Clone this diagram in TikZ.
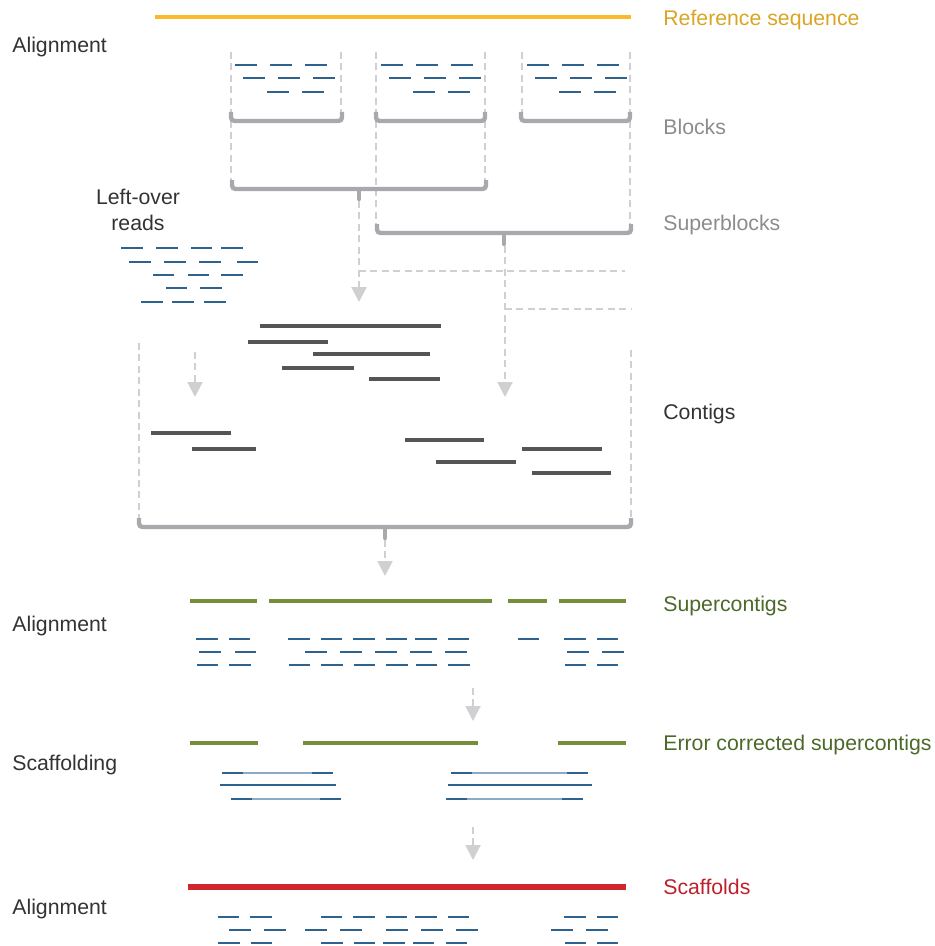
\documentclass[tikz,border=0pt]{standalone}
\usepackage{fontspec}
\setmainfont{Liberation Sans}
\usetikzlibrary{arrows.meta,positioning}

\definecolor{refyellow}{RGB}{251,186,44}
\definecolor{reftext}{RGB}{218,165,35}
\definecolor{readblue}{RGB}{46,99,143}
\definecolor{mateblue}{RGB}{140,170,196}
\definecolor{contiggray}{RGB}{85,85,85}
\definecolor{bracketgray}{RGB}{167,169,172}
\definecolor{dashgray}{RGB}{208,208,210}
\definecolor{labelgray}{RGB}{140,140,142}
\definecolor{scgreen}{RGB}{115,143,60}
\definecolor{sctext}{RGB}{75,105,40}
\definecolor{scafred}{RGB}{208,38,45}
\definecolor{scaftext}{RGB}{190,32,42}
\definecolor{textdark}{RGB}{51,51,51}

\tikzset{
  lbl/.style={inner sep=0pt, anchor=base west, font=\fontsize{12.1}{14.7}\selectfont},
  read/.style={readblue, line width=1.5pt},
  mate/.style={mateblue, line width=0.7pt},
  contig/.style={contiggray, line width=2.8pt},
  bracket/.style={bracketgray, line width=2.5pt, rounded corners=2pt},
  guide/.style={dashgray, line width=1.2pt, dash pattern=on 4pt off 2.5pt},
  flow/.style={guide, arrows={-Triangle[width=8.5pt,length=8.5pt]}}
}

\begin{document}
\begin{tikzpicture}[x=0.02cm, y=-0.02cm]
 \useasboundingbox (0,0) rectangle (935,946);

 % labels
 \node[lbl, reftext] (ref) at (663,26) {Reference sequence};
 \node[lbl, labelgray] (blocks) at (663,134) {Blocks};
 \node[lbl, labelgray] (superblocks) at (663,230) {Superblocks};
 \node[lbl, textdark] (contigs) at (663,419) {Contigs};
 \node[lbl, sctext] (supercontigs) at (663,611) {Supercontigs};
 \node[lbl, sctext] (ecsc) at (663,750) {Error corrected supercontigs};
 \node[lbl, scaftext] (scaffolds) at (663,894) {Scaffolds};
 \node[lbl, textdark] (align1) at (12,53) {Alignment};
 \node[lbl, textdark] (align2) at (12,631) {Alignment};
 \node[lbl, textdark] (scaffolding) at (12,770) {Scaffolding};
 \node[lbl, textdark] (align3) at (12,914) {Alignment};
 \node[inner sep=0pt, align=center, textdark, font=\fontsize{12.1}{14.7}\selectfont] (leftover) at (138,210) {Left-over\\reads};

 % reference
 \draw[refyellow, line width=2.8pt] (155,17) -- (631,17);

 % dashed guides
 \draw[guide] (231,52) -- (231,182);
 \draw[guide] (341,52) -- (341,114);
 \draw[guide] (376,52) -- (376,226);
 \draw[guide] (485,52) -- (485,182);
 \draw[guide] (522,52) -- (522,114);
 \draw[guide] (630,52) -- (630,226);
 \draw[guide] (359,271) -- (625,271);
 \draw[guide] (505,309) -- (631,309);
 \draw[guide] (139,343) -- (139,520);
 \draw[guide] (631,350) -- (631,520);

 % reads in blocks
 \draw[read] (235,65) -- (257,65) (270,65) -- (292,65) (305,65) -- (327,65);
 \draw[read] (243,78) -- (265,78) (278,78) -- (300,78) (313,78) -- (335,78);
 \draw[read] (267,92) -- (289,92) (302,92) -- (324,92);
 \draw[read] (381,65) -- (403,65) (416,65) -- (438,65) (451,65) -- (473,65);
 \draw[read] (389,78) -- (411,78) (424,78) -- (446,78) (459,78) -- (481,78);
 \draw[read] (413,92) -- (435,92) (448,92) -- (470,92);
 \draw[read] (527,65) -- (549,65) (562,65) -- (584,65) (597,65) -- (619,65);
 \draw[read] (535,78) -- (557,78) (570,78) -- (592,78) (605,78) -- (627,78);
 \draw[read] (559,92) -- (581,92) (594,92) -- (616,92);

 % block and superblock brackets
 \draw[bracket] (231,112) -- (231,121) -- (342,121) -- (342,112);
 \draw[bracket] (376,112) -- (376,121) -- (485,121) -- (485,112);
 \draw[bracket] (521,112) -- (521,121) -- (630,121) -- (630,112);
 \draw[bracket] (232,180) -- (232,189) -- (486,189) -- (486,180);
 \draw[bracket] (377,224) -- (377,233) -- (631,233) -- (631,224);
 \draw[bracket] (139,518) -- (139,527) -- (631,527) -- (631,518);
 \draw[bracketgray, line width=2.5pt, line cap=round] (359,190) -- (359,199);
 \draw[bracketgray, line width=2.5pt, line cap=round] (504,234) -- (504,244);
 \draw[bracketgray, line width=2.5pt, line cap=round] (385,528) -- (385,538);

 % arrows
 \coordinate (sb1tab) at (359,201);
 \coordinate (sb1end) at (359,302);
 \coordinate (sb2tab) at (505,246);
 \coordinate (sb2end) at (505,397);
 \coordinate (lostart) at (195,352);
 \coordinate (loend) at (195,397);
 \coordinate (ctab) at (385,540);
 \coordinate (cend) at (385,576);
 \coordinate (sc1) at (473,688);
 \coordinate (sc2) at (473,721);
 \coordinate (ec1) at (473,827);
 \coordinate (ec2) at (473,860);
 \draw[flow] (sb1tab) -- (sb1end);
 \draw[flow] (sb2tab) -- (sb2end);
 \draw[flow] (lostart) -- (loend);
 \draw[flow] (ctab) -- (cend);
 \draw[flow] (sc1) -- (sc2);
 \draw[flow] (ec1) -- (ec2);

 % left-over reads
 \draw[read] (121,248) -- (143,248) (156,248) -- (178,248) (191,248) -- (212,248) (221,248) -- (243,248);
 \draw[read] (129,262) -- (151,262) (164,262) -- (186,262) (199,262) -- (221,262) (237,262) -- (258,262);
 \draw[read] (153,275) -- (174,275) (188,275) -- (209,275) (221,275) -- (243,275);
 \draw[read] (166,288) -- (187,288) (200,288) -- (222,288);
 \draw[read] (141,302) -- (163,302) (172,302) -- (194,302) (204,302) -- (226,302);

 % contigs
 \draw[contig] (260,326) -- (441,326);
 \draw[contig] (248,342) -- (328,342);
 \draw[contig] (313,354) -- (430,354);
 \draw[contig] (282,368) -- (354,368);
 \draw[contig] (369,379) -- (440,379);
 \draw[contig] (151,433) -- (231,433);
 \draw[contig] (192,449) -- (256,449);
 \draw[contig] (405,440) -- (484,440);
 \draw[contig] (436,462) -- (516,462);
 \draw[contig] (522,449) -- (602,449);
 \draw[contig] (532,473) -- (611,473);

 % supercontigs
 \draw[scgreen, line width=2.8pt] (190,601) -- (257,601) (269,601) -- (492,601) (508,601) -- (547,601) (559,601) -- (626,601);
 \draw[read] (196,639) -- (218,639) (229,639) -- (250,639) (288,639) -- (310,639) (321,639) -- (342,639) (353,639) -- (375,639) (386,639) -- (407,639) (415,639) -- (437,639) (448,639) -- (469,639) (518,639) -- (539,639) (564,639) -- (586,639) (597,639) -- (618,639);
 \draw[read] (199,652) -- (221,652) (235,652) -- (256,652) (305,652) -- (327,652) (340,652) -- (362,652) (375,652) -- (397,652) (410,652) -- (432,652) (445,652) -- (467,652) (567,652) -- (589,652) (602,652) -- (624,652);
 \draw[read] (197,665) -- (218,665) (229,665) -- (251,665) (289,665) -- (310,665) (321,665) -- (343,665) (354,665) -- (375,665) (386,665) -- (408,665) (416,665) -- (437,665) (448,665) -- (470,665) (565,665) -- (586,665) (597,665) -- (618,665);

 % error corrected supercontigs and mate pairs
 \draw[scgreen, line width=2.8pt] (190,743) -- (258,743) (303,743) -- (478,743) (558,743) -- (626,743);
 \draw[mate] (243,773) -- (312,773) (472,773) -- (567,773);
 \draw[readblue, line width=0.6pt] (241,785) -- (315,785) (470,785) -- (570,785);
 \draw[mate] (252,799) -- (320,799) (467,799) -- (562,799);
 \draw[read] (222,773) -- (243,773) (312,773) -- (333,773) (451,773) -- (472,773) (567,773) -- (588,773);
 \draw[read] (220,785) -- (241,785) (315,785) -- (336,785) (448,785) -- (470,785) (570,785) -- (592,785);
 \draw[read] (231,799) -- (252,799) (320,799) -- (341,799) (446,799) -- (467,799) (562,799) -- (583,799);

 % scaffolds
 \draw[scafred, line width=3.4pt] (188,887) -- (626,887);
 \draw[read] (218,917) -- (239,917) (250,917) -- (272,917) (321,917) -- (342,917) (353,917) -- (375,917) (386,917) -- (407,917) (415,917) -- (437,917) (448,917) -- (469,917) (564,917) -- (586,917) (597,917) -- (618,917);
 \draw[read] (229,930) -- (251,930) (264,930) -- (286,930) (305,930) -- (327,930) (340,930) -- (362,930) (386,930) -- (408,930) (421,930) -- (443,930) (456,930) -- (478,930) (551,930) -- (573,930) (586,930) -- (608,930);
 \draw[read] (218,943) -- (240,943) (251,943) -- (272,943) (321,943) -- (343,943) (354,943) -- (375,943) (383,943) -- (405,943) (413,943) -- (434,943) (446,943) -- (467,943) (565,943) -- (586,943) (597,943) -- (618,943);

\end{tikzpicture}
\end{document}
